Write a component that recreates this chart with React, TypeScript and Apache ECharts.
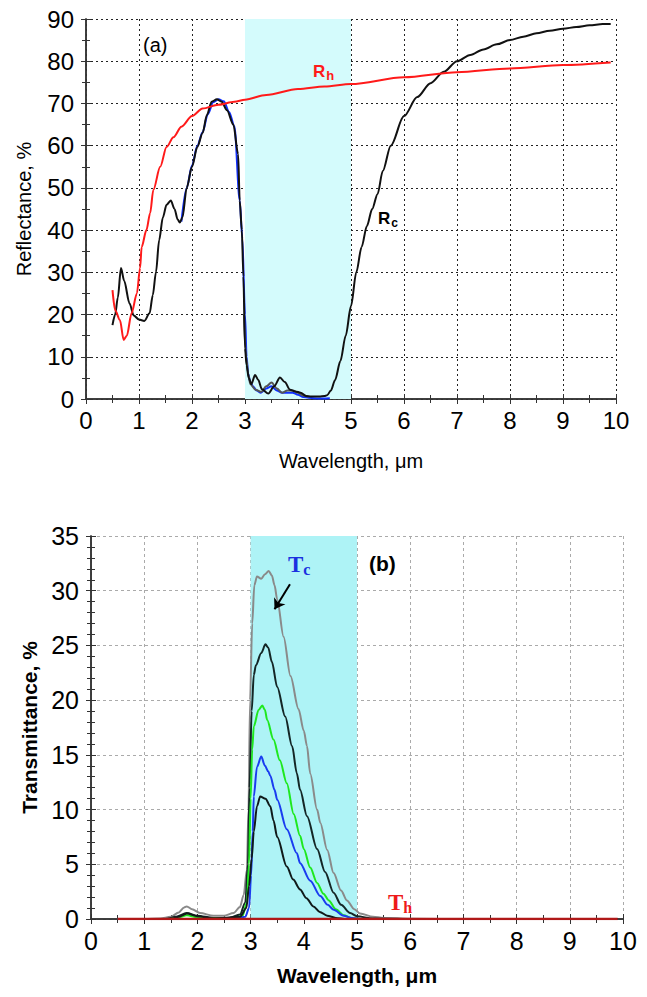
import React, { useEffect, useRef } from "react";
import * as echarts from "echarts";

// ---------- Panel (a): reflectance ----------
const rcX = [0.5, 0.55, 0.6, 0.66, 0.72, 0.82, 0.9, 1.0, 1.1, 1.2, 1.26, 1.32, 1.38, 1.45, 1.52, 1.6, 1.67, 1.73, 1.77, 1.82, 1.9, 2.0, 2.1, 2.2, 2.28, 2.37, 2.47, 2.56, 2.66, 2.78, 2.87, 2.9, 2.94, 2.97, 3.0, 3.03, 3.07, 3.12, 3.19, 3.25, 3.32, 3.44, 3.55, 3.66, 3.75, 3.85, 3.95, 4.05, 4.15, 4.25, 4.4, 4.5, 4.55, 4.62, 4.7, 4.8, 4.9, 5.0, 5.1, 5.2, 5.3, 5.4, 5.5, 5.6, 5.75, 6.0, 6.25, 6.5, 6.75, 7.0, 7.25, 7.5, 7.75, 8.0, 8.25, 8.5, 8.75, 9.0, 9.25, 9.5, 9.75, 9.9];
const rcY = [17.5, 20, 24, 31, 28, 22.7, 19.8, 18.8, 18.5, 20.3, 24.6, 30, 37.6, 43, 46, 47, 45, 42.5, 41.8, 43, 50, 55, 59.7, 63, 67.2, 70.4, 71, 70.4, 68.4, 65, 58, 47, 40, 29, 12, 8, 5, 3.5, 5.7, 4.5, 2.3, 1.3, 3, 5.1, 4, 2.2, 1.8, 1.5, 0.7, 0.6, 0.6, 0.7, 0.9, 2, 4.5, 9, 15, 22, 30, 36, 41, 45, 48.5, 54, 60, 67, 71.5, 74.8, 77.5, 80, 81.5, 82.8, 84, 85, 85.8, 86.6, 87.2, 87.7, 88.1, 88.5, 88.8, 88.8];

const rbX = [1.8, 1.9, 2.0, 2.1, 2.2, 2.3, 2.4, 2.5, 2.6, 2.7, 2.8, 2.9, 2.95, 3.0, 3.03, 3.06, 3.1, 3.15, 3.22, 3.3, 3.4, 3.5, 3.6, 3.7, 3.8, 3.9, 4.0, 4.1, 4.2, 4.4, 4.6];
const rbY = [42, 50, 55.3, 60, 63.2, 67.5, 70.3, 71, 70.5, 68, 64.6, 47, 38, 20, 10, 6, 4, 3, 2, 1.5, 2.5, 3, 2, 1.5, 1.5, 1.5, 1, 0.5, 0.3, 0.1, 0.2];

const rgX = [2.98, 3.02, 3.06, 3.1, 3.2, 3.31, 3.4, 3.5, 3.6, 3.7, 3.8, 3.9, 4.0, 4.1, 4.2];
const rgY = [20, 10, 6, 3.5, 2.2, 1.7, 3, 3.9, 2.5, 1.5, 2, 2, 1.5, 0.8, 0.5];

const rhX = [0.5, 0.55, 0.64, 0.71, 0.77, 0.86, 0.96, 1.02, 1.05, 1.14, 1.21, 1.27, 1.4, 1.52, 1.65, 1.8, 2.0, 2.2, 2.5, 2.8, 3.0, 3.4, 4.0, 4.5, 5.0, 6.0, 7.0, 8.0, 9.0, 9.9];
const rhY = [25.8, 21, 18.7, 14, 15, 20.3, 25, 31, 36, 40, 44, 49.5, 55, 59.7, 62, 64.5, 67, 68.8, 69.7, 70.4, 70.9, 72, 73.4, 74, 74.6, 76.2, 77.4, 78.3, 79.1, 79.7];

// ---------- Panel (b): transmittance ----------
const tGrayX = [0.5, 1.0, 1.3, 1.5, 1.65, 1.75, 1.8, 1.9, 2.05, 2.3, 2.5, 2.68, 2.8, 2.87, 2.93, 2.96, 2.99, 3.03, 3.07, 3.12, 3.2, 3.27, 3.34, 3.4, 3.45, 3.5, 3.62, 3.75, 3.9, 4.0, 4.06, 4.12, 4.25, 4.31, 4.44, 4.56, 4.7, 4.81, 4.95, 5.06, 5.3, 5.5, 6.0, 7.0, 9.9];
const tGrayY = [0, 0, 0.05, 0.2, 0.6, 1.05, 1.15, 0.9, 0.55, 0.3, 0.3, 0.55, 1.1, 2.2, 4.5, 10, 20, 27, 30.5, 31.3, 31.1, 31.5, 31.8, 31.4, 30.5, 29.2, 25.8, 22.2, 19.2, 17.2, 15.8, 13.3, 10, 8.8, 6.3, 4.2, 2.6, 1.7, 0.9, 0.5, 0.2, 0.1, 0.02, 0, 0];

const tDark1X = [0.5, 1.4, 1.6, 1.8, 2.0, 2.3, 2.6, 2.8, 2.9, 2.95, 2.98, 3.02, 3.06, 3.1, 3.2, 3.28, 3.33, 3.4, 3.5, 3.65, 3.78, 3.87, 3.93, 4.06, 4.25, 4.4, 4.56, 4.7, 4.87, 5.0, 5.3, 6.0, 9.9];
const tDark1Y = [0, 0, 0.2, 0.55, 0.3, 0.1, 0.1, 0.4, 1.5, 5, 12, 19, 22.3, 23.2, 24.3, 25.1, 24.8, 23.5, 21.2, 18.5, 15.8, 13.3, 11.8, 9.4, 6.4, 4.3, 2.4, 1.3, 0.55, 0.25, 0.05, 0, 0];

const tGreenX = [0.5, 1.5, 1.65, 1.8, 2.0, 2.2, 2.7, 2.85, 2.93, 2.97, 3.0, 3.03, 3.06, 3.15, 3.22, 3.27, 3.31, 3.43, 3.55, 3.68, 3.81, 3.93, 4.0, 4.12, 4.25, 4.37, 4.47, 4.6, 4.75, 4.9, 5.1, 9.9];
const tGreenY = [0, 0, 0.15, 0.35, 0.15, 0.02, 0.05, 0.3, 1.5, 5, 11, 15.5, 17.6, 19.1, 19.5, 19.1, 18.2, 16.4, 14.5, 12.4, 9.6, 7.6, 6.4, 4.7, 3.3, 2.3, 1.7, 0.9, 0.35, 0.1, 0, 0];

const tBlueX = [0.5, 2.7, 2.9, 2.97, 3.01, 3.04, 3.06, 3.12, 3.2, 3.27, 3.33, 3.37, 3.45, 3.5, 3.68, 3.87, 3.93, 4.12, 4.31, 4.45, 4.56, 4.75, 4.9, 5.1, 9.9];
const tBlueY = [0, 0, 0.2, 1, 4, 8, 11.2, 13.9, 14.85, 14, 13.5, 13.1, 11.8, 10.9, 8.2, 6.0, 5.1, 3.5, 2.1, 1.3, 0.85, 0.3, 0.1, 0, 0];

const tDark2X = [0.5, 1.5, 1.65, 1.8, 2.0, 2.3, 2.8, 2.92, 2.97, 3.02, 3.06, 3.12, 3.18, 3.28, 3.37, 3.43, 3.5, 3.68, 3.8, 3.93, 4.05, 4.18, 4.3, 4.44, 4.6, 4.8, 9.9];
const tDark2Y = [0, 0, 0.2, 0.5, 0.25, 0.05, 0.2, 1, 3, 5.5, 8, 10.3, 11.2, 11.0, 10.3, 9, 7.5, 4.8, 3.6, 2.7, 1.9, 1.15, 0.65, 0.3, 0.1, 0, 0];

const thX = [0.5, 9.9];
const thY = [0, 0];

const xTicks = { min: 0, max: 10, interval: 1 };
const yTicksA = { min: 0, max: 90, interval: 10 };
const yTicksB = { min: 0, max: 35, interval: 5 };
const band = [3, 5];

const zip = (xs: number[], ys: number[]) => xs.map((x, i) => [x, ys[i]]);

const FONT = 'Arial, "Liberation Sans", sans-serif';
const SERIF = '"Times New Roman", "Liberation Serif", serif';

function makeOption() {
  const axisLine = { show: true, lineStyle: { color: "#333", width: 1.5 } };
  const mkX = (gridIndex: number, top: boolean, gridStyle: any, fs: number, bold: boolean, gap: number) => ({
    type: "value",
    gridIndex,
    position: top ? "top" : "bottom",
    min: xTicks.min,
    max: xTicks.max,
    interval: xTicks.interval,
    axisLine,
    axisTick: { show: true, inside: true, length: 5, lineStyle: { color: "#333" } },
    minorTick: { show: true, splitNumber: 2, length: 4, lineStyle: { color: "#333" } },
    axisLabel: top ? { show: false } : { show: true, fontSize: fs, color: "#000", fontFamily: FONT, margin: 9 },
    splitLine: top ? { show: false } : { show: true, lineStyle: gridStyle },
    name: top ? "" : "Wavelength, μm",
    nameLocation: "middle",
    nameGap: gap,
    nameTextStyle: { fontSize: bold ? 21 : 20, fontWeight: bold ? "bold" : "normal", color: "#000", fontFamily: FONT },
  });
  const mkY = (gridIndex: number, right: boolean, ticks: any, minorSplit: number, gridStyle: any, fs: number, name: string, bold: boolean, gap: number) => ({
    type: "value",
    gridIndex,
    position: right ? "right" : "left",
    min: ticks.min,
    max: ticks.max,
    interval: ticks.interval,
    axisLine,
    axisTick: { show: true, inside: true, length: 5, lineStyle: { color: "#333" } },
    minorTick: { show: true, splitNumber: minorSplit, length: 4, lineStyle: { color: "#333" } },
    axisLabel: right ? { show: false } : { show: true, fontSize: fs, color: "#000", fontFamily: FONT, margin: 12 },
    splitLine: right ? { show: false } : { show: true, lineStyle: gridStyle },
    name: right ? "" : name,
    nameLocation: "middle",
    nameRotate: 90,
    nameGap: gap,
    nameTextStyle: { fontSize: bold ? 21 : 20, fontWeight: bold ? "bold" : "normal", color: "#000", fontFamily: FONT },
  });

  const dotA = { type: [2, 3], color: "#222", width: 1 };
  const dashB = { type: [3, 3], color: "#aaa", width: 1 };

  const line = (name: string, xs: number[], ys: number[], color: string, xi: number, yi: number, width = 2, z = 3) => ({
    name,
    type: "line",
    xAxisIndex: xi,
    yAxisIndex: yi,
    data: zip(xs, ys),
    showSymbol: false,
    symbol: "none",
    smooth: 0.3,
    smoothMonotone: "x",
    lineStyle: { color, width },
    z,
  });

  return {
    animation: false,
    grid: [
      { left: 86, top: 19, width: 530, height: 380 },
      { left: 91, top: 536, width: 532, height: 383 },
    ],
    xAxis: [
      mkX(0, false, dotA, 24, false, 52),
      mkX(0, true, dotA, 24, false, 0),
      mkX(1, false, dashB, 25, true, 46),
      mkX(1, true, dashB, 25, true, 0),
    ],
    yAxis: [
      mkY(0, false, yTicksA, 2, dotA, 24, "Reflectance, %", false, 52),
      mkY(0, true, yTicksA, 2, dotA, 24, "", false, 0),
      mkY(1, false, yTicksB, 5, dashB, 25, "Transmittance, %", true, 50),
      mkY(1, true, yTicksB, 5, dashB, 25, "", true, 0),
    ],
    series: [
      {
        ...line("bandA", [], [], "#000", 0, 0),
        markArea: {
          silent: true,
          itemStyle: { color: "#d4fbfc" },
          data: [[{ xAxis: band[0] }, { xAxis: band[1] }]],
        },
        z: 1,
      },
      line("Rblue", rbX, rbY, "#1030ff", 0, 0, 2, 3),
      line("Rgray", rgX, rgY, "#555555", 0, 0, 2, 3),
      line("Rc", rcX, rcY, "#111111", 0, 0, 2, 4),
      line("Rh", rhX, rhY, "#ff1a1a", 0, 0, 2, 5),
      {
        ...line("bandB", [], [], "#000", 2, 2),
        markArea: {
          silent: true,
          itemStyle: { color: "#aef3f6" },
          data: [[{ xAxis: band[0] }, { xAxis: band[1] }]],
        },
        z: 1,
      },
      line("Tgray", tGrayX, tGrayY, "#8a8a8a", 2, 2, 2, 3),
      line("Tdark1", tDark1X, tDark1Y, "#142626", 2, 2, 2, 4),
      line("Tgreen", tGreenX, tGreenY, "#1ee81e", 2, 2, 2, 4),
      line("Tblue", tBlueX, tBlueY, "#1a3cf0", 2, 2, 2, 4),
      {
        ...line("Tdark2", tDark2X, tDark2Y, "#101a1a", 2, 2, 2, 4),
        markLine: {
          silent: true,
          symbol: ["none", "arrow"],
          symbolSize: 10,
          label: { show: false },
          lineStyle: { color: "#000", width: 2, type: "solid" },
          data: [[{ coord: [3.74, 30.6] }, { coord: [3.45, 28.3] }]],
        },
      },
      line("Th", thX, thY, "#b01818", 2, 2, 2.5, 6),
    ],
    graphic: [
      { type: "text", z: 100, left: 143, top: 35, style: { text: "(a)", fontSize: 20, fontFamily: FONT, fill: "#000" } },
      {
        type: "text",
        z: 100,
        left: 313,
        top: 63,
        style: {
          text: "{a|R}{b|h}",
          rich: {
            a: { fontSize: 17, fontWeight: "bold", fontFamily: FONT, fill: "#ff1a1a" },
            b: { fontSize: 13, fontWeight: "bold", fontFamily: FONT, fill: "#ff1a1a", padding: [8, 0, 0, 1] },
          },
        },
      },
      {
        type: "text",
        z: 100,
        left: 378,
        top: 210,
        style: {
          text: "{a|R}{b|c}",
          rich: {
            a: { fontSize: 17, fontWeight: "bold", fontFamily: FONT, fill: "#000" },
            b: { fontSize: 12, fontWeight: "bold", fontFamily: FONT, fill: "#000", padding: [8, 0, 0, 1] },
          },
        },
      },
      { type: "text", z: 100, left: 369, top: 553, style: { text: "(b)", fontSize: 21, fontWeight: "bold", fontFamily: FONT, fill: "#000" } },
      {
        type: "text",
        z: 100,
        left: 288,
        top: 553,
        style: {
          text: "{a|T}{b|c}",
          rich: {
            a: { fontSize: 23, fontWeight: "bold", fontFamily: SERIF, fill: "#1a30e0" },
            b: { fontSize: 16, fontWeight: "bold", fontFamily: SERIF, fill: "#1a30e0", padding: [10, 0, 0, 0] },
          },
        },
      },
      {
        type: "text",
        z: 100,
        left: 388,
        top: 891,
        style: {
          text: "{a|T}{b|h}",
          rich: {
            a: { fontSize: 23, fontWeight: "bold", fontFamily: SERIF, fill: "#ee1a1a" },
            b: { fontSize: 16, fontWeight: "bold", fontFamily: SERIF, fill: "#ee1a1a", padding: [10, 0, 0, 0] },
          },
        },
      },
    ],
  };
}

export default function App() {
  const ref = useRef<HTMLDivElement>(null);
  useEffect(() => {
    if (!ref.current) return;
    const chart = echarts.init(ref.current, null, { renderer: "svg" });
    chart.setOption(makeOption() as any);
    return () => chart.dispose();
  }, []);
  return (
    <div
      ref={ref}
      style={{ position: "absolute", left: 0, top: 0, width: 647, height: 997, background: "#fff" }}
    />
  );
}
